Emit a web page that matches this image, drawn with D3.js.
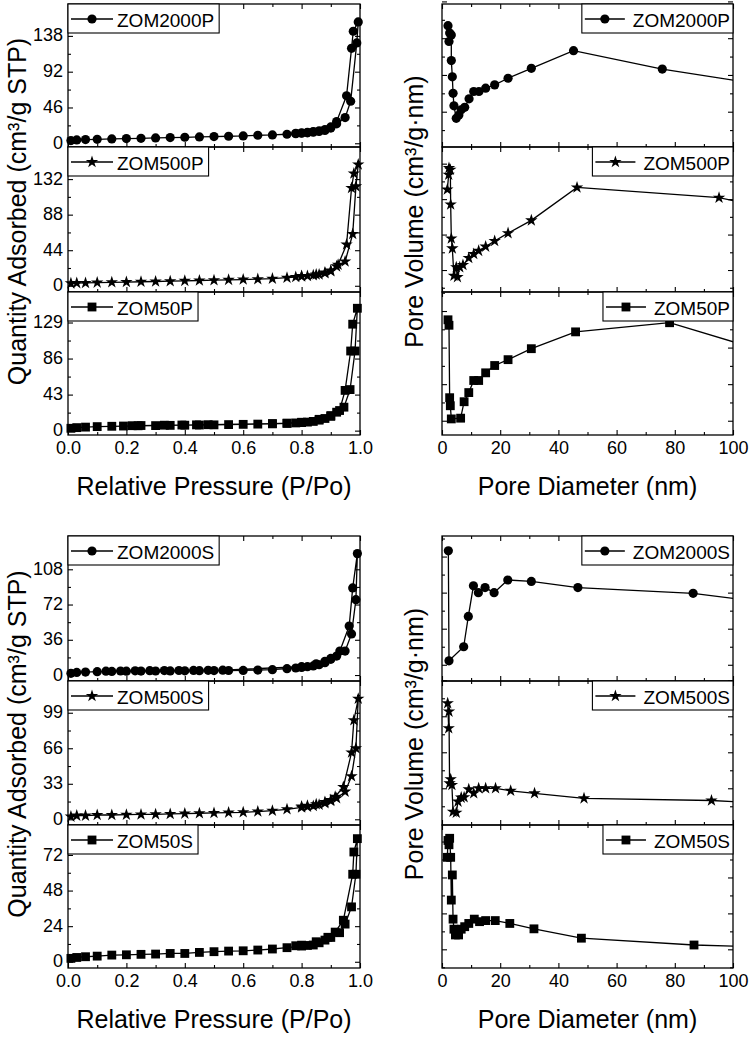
<!DOCTYPE html>
<html><head><meta charset="utf-8">
<script src="https://cdn.jsdelivr.net/npm/d3@7/dist/d3.min.js"></script>
<style>
html,body{margin:0;padding:0;background:#fff;}
</style></head>
<body>
<svg id="chart" width="749" height="1040"></svg>
<script>
// ---------------- DATA ----------------
const seriesLabels  = ["ZOM2000P","ZOM500P","ZOM50P","ZOM2000S","ZOM500S","ZOM50S"];
const seriesSymbols = ["circle","star","square","circle","star","square"];

// N2 isotherms: [P/Po, quantity adsorbed] — adsorption branch then desorption branch
const iso_ZOM2000P = [[0.01,3.4],[0.03,4.3],[0.06,4.7],[0.10,5.1],[0.15,5.6],[0.20,6.0],[0.25,6.4],[0.30,6.9],[0.35,7.3],[0.40,7.7],[0.45,8.1],[0.50,8.6],[0.55,9.0],[0.60,9.4],[0.65,10.3],[0.70,10.7],[0.75,11.6],[0.78,12.2],[0.80,12.9],[0.82,13.4],[0.84,14.2],[0.86,15.1],[0.88,16.4],[0.90,19.5],[0.92,25.0],[0.949,33.0],[0.968,54.0],[0.989,129.0],[0.994,156.0],
  [0.977,144.0],[0.971,122.0],[0.954,61.0],[0.92,28.0],[0.90,21.0],[0.88,17.6],[0.86,16.0],[0.84,15.0],[0.82,14.0],[0.80,13.4],[0.78,12.8]];
const iso_ZOM500P = [[0.01,3.0],[0.03,3.3],[0.06,3.5],[0.10,3.9],[0.15,4.3],[0.20,4.6],[0.25,5.0],[0.30,5.3],[0.35,5.7],[0.40,6.1],[0.45,6.5],[0.50,6.9],[0.55,7.3],[0.60,7.7],[0.65,8.2],[0.70,8.8],[0.75,10.0],[0.78,10.8],[0.80,11.5],[0.82,12.2],[0.84,13.0],[0.86,14.0],[0.88,15.5],[0.90,18.0],[0.92,24.0],[0.949,30.0],[0.975,64.0],[0.986,123.0],[0.994,150.0],
  [0.979,139.0],[0.971,121.0],[0.954,51.0],[0.925,26.0],[0.90,19.0],[0.88,16.5],[0.85,14.0],[0.80,12.0]];
const iso_ZOM50P = [[0.01,2.8],[0.03,3.6],[0.06,4.2],[0.10,4.8],[0.15,5.2],[0.19,5.5],[0.24,5.8],[0.30,6.0],[0.35,6.3],[0.40,6.5],[0.45,6.7],[0.50,6.9],[0.55,7.2],[0.60,7.5],[0.65,7.8],[0.70,8.1],[0.75,8.6],[0.78,9.2],[0.80,9.6],[0.82,10.2],[0.84,11.0],[0.86,12.5],[0.88,14.5],[0.90,17.0],[0.92,22.0],[0.945,28.0],[0.966,49.0],[0.983,95.0],[0.991,146.0],
  [0.975,127.0],[0.968,95.0],[0.949,48.0],[0.93,24.0],[0.90,18.0],[0.86,13.5],[0.80,10.0],[0.75,9.0],[0.70,8.4],[0.48,7.1],[0.44,6.9],[0.39,6.7],[0.33,6.5],[0.25,6.1],[0.22,5.9]];
const iso_ZOM2000S = [[0.01,1.7],[0.03,2.7],[0.06,3.0],[0.10,3.4],[0.15,3.7],[0.20,3.9],[0.25,4.0],[0.30,4.1],[0.35,4.2],[0.40,4.3],[0.45,4.4],[0.50,4.5],[0.55,4.6],[0.60,4.7],[0.65,5.1],[0.70,5.5],[0.75,6.5],[0.78,7.2],[0.80,7.8],[0.82,8.5],[0.84,9.3],[0.86,10.5],[0.88,12.6],[0.90,16.0],[0.92,19.4],[0.949,24.5],[0.971,42.0],[0.986,77.0],[0.991,124.0],
  [0.975,89.0],[0.963,50.0],[0.931,24.5],[0.90,17.0],[0.88,14.0],[0.85,11.5],[0.80,8.5],[0.53,5.0],[0.48,4.8],[0.43,4.7],[0.38,4.6],[0.33,4.5],[0.28,4.4],[0.23,4.3],[0.18,4.1],[0.13,3.9]];
const iso_ZOM500S = [[0.01,2.5],[0.03,3.4],[0.06,3.4],[0.10,4.0],[0.15,4.0],[0.20,4.3],[0.25,4.5],[0.30,4.6],[0.35,5.0],[0.40,5.3],[0.45,5.6],[0.50,5.9],[0.55,6.2],[0.60,6.5],[0.65,7.2],[0.70,8.0],[0.75,9.3],[0.80,11.0],[0.82,11.6],[0.84,12.4],[0.86,13.5],[0.88,15.0],[0.90,17.0],[0.92,19.5],[0.949,25.7],[0.971,40.0],[0.986,66.0],[0.994,112.0],
  [0.979,92.0],[0.971,62.0],[0.943,30.0],[0.915,21.0],[0.90,18.0],[0.88,16.0],[0.85,14.0],[0.82,12.5],[0.80,11.8]];
const iso_ZOM50S = [[0.01,2.3],[0.03,2.9],[0.06,3.4],[0.10,3.8],[0.15,4.5],[0.20,4.7],[0.25,5.0],[0.30,5.2],[0.35,5.6],[0.40,5.6],[0.45,6.3],[0.50,6.8],[0.55,7.2],[0.60,7.4],[0.65,7.9],[0.70,8.6],[0.75,9.5],[0.80,10.6],[0.82,11.0],[0.84,11.3],[0.86,12.8],[0.88,14.6],[0.90,16.4],[0.93,19.6],[0.949,25.4],[0.971,37.0],[0.986,59.0],[0.991,83.0],
  [0.979,74.0],[0.975,59.0],[0.943,28.0],[0.915,20.0],[0.89,16.5],[0.85,13.5],[0.80,11.2],[0.78,10.8]];

// Pore size distributions: [pore diameter nm, pore volume (arbitrary units, unlabelled axis)]
const pore_ZOM2000P = [[2.06,3.34],[2.4,2.91],[2.63,3.14],[3.2,3.09],[3.2,2.39],[3.55,1.95],[3.8,1.50],[4.1,1.16],[4.9,0.82],[5.8,0.91],[6.6,1.05],[7.8,1.12],[9.3,1.35],[10.9,1.55],[12.7,1.55],[15.0,1.64],[18.1,1.73],[22.7,1.91],[30.7,2.18],[45.2,2.66],[75.7,2.16],[130,1.49]];
const pore_ZOM500P = [[1.83,3.27],[2.3,3.69],[2.4,3.88],[2.86,3.83],[2.98,2.85],[3.2,1.89],[3.55,1.61],[4.1,0.84],[4.9,1.08],[5.3,0.80],[6.1,1.08],[7.2,1.14],[9.2,1.34],[10.9,1.45],[12.6,1.54],[15.0,1.66],[18.1,1.82],[22.7,2.04],[30.7,2.40],[46.4,3.33],[95.2,3.04],[110,2.78]];
const pore_ZOM50P = [[2.06,3.76],[2.4,3.61],[2.63,1.63],[2.86,1.41],[3.2,1.05],[6.4,1.07],[7.6,1.52],[9.2,1.77],[10.9,2.10],[12.6,2.10],[15.0,2.31],[18.1,2.51],[22.7,2.67],[30.7,2.97],[45.9,3.43],[78.2,3.68],[125,2.56]];
const pore_ZOM2000S = [[2.18,4.16],[2.4,1.11],[7.45,1.50],[9.05,2.34],[10.8,3.19],[12.5,3.00],[14.8,3.14],[17.9,3.00],[22.6,3.35],[30.7,3.31],[46.7,3.14],[86.3,2.98],[130,2.53]];
const pore_ZOM500S = [[1.95,3.36],[2.3,2.67],[2.4,3.13],[2.6,1.14],[2.98,1.25],[3.4,1.09],[3.8,0.35],[4.9,0.32],[5.5,0.63],[6.6,0.74],[7.6,0.75],[9.2,0.97],[10.9,0.86],[12.6,1.00],[15.0,1.00],[18.4,1.00],[23.6,0.93],[31.8,0.86],[48.8,0.72],[92.6,0.66],[130,0.51]];
const pore_ZOM50S = [[1.83,3.56],[2.06,4.03],[2.4,3.91],[2.63,4.09],[2.98,3.56],[3.2,2.37],[3.55,3.07],[3.8,1.84],[4.1,1.56],[4.6,1.40],[5.5,1.54],[5.7,1.40],[6.6,1.56],[7.8,1.63],[9.2,1.72],[11.1,1.84],[12.9,1.77],[15.0,1.80],[18.3,1.80],[23.3,1.72],[31.6,1.57],[47.9,1.31],[86.6,1.12],[130,1.02]];

// Axis ticks / ranges
const isoXTicks  = [0,0.2,0.4,0.6,0.8,1.0];
const isoXMinor  = [0.1,0.3,0.5,0.7,0.9];
const poreXTicks = [0,20,40,60,80,100];
const poreXMinor = [10,30,50,70,90];
const isoYTicks   = [[0,46,92,138],[0,44,88,132],[0,43,86,129],[0,36,72,108],[0,33,66,99],[0,24,48,72]];
const isoYDomains = [[-4.8,179],[-7.7,171.7],[-5.2,165.4],[-6.1,142],[-5.3,128.5],[-4.2,92.2]];
const poreYTicks   = [1,2,3,4];
const poreYDomains = [[0.04,3.93],[0.38,4.47],[0.61,4.52],[0.55,4.57],[-0.02,3.98],[0.48,4.46]];
const isoXTitle  = "Relative Pressure (P/Po)";
const poreXTitle = "Pore Diameter (nm)";
const isoYTitle  = "Quantity Adsorbed (cm³/g STP)";
const poreYTitle = "Pore Volume (cm³/g·nm)";

const isoData  = [iso_ZOM2000P, iso_ZOM500P, iso_ZOM50P, iso_ZOM2000S, iso_ZOM500S, iso_ZOM50S];
const poreData = [pore_ZOM2000P, pore_ZOM500P, pore_ZOM50P, pore_ZOM2000S, pore_ZOM500S, pore_ZOM50S];

// ---------------- LAYOUT ----------------
const FONT = "'Liberation Sans', Arial, Helvetica, sans-serif";
const colX = {iso:[68,360], pore:[442,733]};
const rowEdges = [[4,147,292,435],[536,681,825,968]];
const svg = d3.select('#chart');
let clipId = 0;

function addMarker(sel, sym, cx, cy) {
  if (sym === 'circle') {
    sel.append('circle').attr('cx', cx).attr('cy', cy).attr('r', 4.6).attr('fill', '#000');
  } else {
    const t = sym === 'star' ? d3.symbolStar : d3.symbolSquare;
    const s = sym === 'star' ? 48 : 78;
    sel.append('path').attr('d', d3.symbol().type(t).size(s)()).attr('transform', `translate(${cx},${cy})`).attr('fill', '#000');
  }
}

function styleAxis(g) {
  g.attr('font-family', FONT).attr('font-size', 18);
  g.select('.domain').remove();
  g.selectAll('line').attr('stroke', '#000').attr('stroke-width', 1.1);
  g.selectAll('text').attr('fill', '#000');
}

function drawPanel(p) {
  const [x0, x1] = p.xr, y0 = p.y0, y1 = p.y1;
  const x = d3.scaleLinear().domain(p.xDom).range([x0, x1]);
  const y = d3.scaleLinear().domain(p.yDom).range([y1, y0]);
  const g = svg.append('g');
  const id = 'clip' + (clipId++);
  g.append('clipPath').attr('id', id).append('rect').attr('x', x0).attr('y', y0).attr('width', x1 - x0).attr('height', y1 - y0);

  // ticks (inward, all four sides)
  const noLab = () => '';
  const L = 5, m = 3;
  g.append('g').attr('transform', `translate(0,${y1})`)
    .call(d3.axisBottom(x).tickValues(p.xTicks).tickSize(-L).tickPadding(6).tickFormat(p.showX ? p.xFmt : noLab)).call(styleAxis);
  g.append('g').attr('transform', `translate(0,${y1})`)
    .call(d3.axisBottom(x).tickValues(p.xMinor).tickSize(-m).tickFormat(noLab)).call(styleAxis);
  g.append('g').attr('transform', `translate(0,${y0})`)
    .call(d3.axisTop(x).tickValues(p.xTicks).tickSize(-L).tickFormat(noLab)).call(styleAxis);
  g.append('g').attr('transform', `translate(0,${y0})`)
    .call(d3.axisTop(x).tickValues(p.xMinor).tickSize(-m).tickFormat(noLab)).call(styleAxis);
  const yMinor = p.yTicks.slice(0, -1).map((v, i) => (v + p.yTicks[i + 1]) / 2);
  const step = p.yTicks[1] - p.yTicks[0];
  yMinor.unshift(p.yTicks[0] - step / 2);
  yMinor.push(p.yTicks[p.yTicks.length - 1] + step / 2);
  const yMin = yMinor.filter(v => v > p.yDom[0] && v < p.yDom[1]);
  const yl = g.append('g').attr('transform', `translate(${x0},0)`)
    .call(d3.axisLeft(y).tickValues(p.yTicks).tickSize(-L).tickPadding(5).tickFormat(p.showY ? d3.format('d') : noLab)).call(styleAxis);
  yl.selectAll('text').attr('dy', '0.28em');
  g.append('g').attr('transform', `translate(${x0},0)`)
    .call(d3.axisLeft(y).tickValues(yMin).tickSize(-m).tickFormat(noLab)).call(styleAxis);
  g.append('g').attr('transform', `translate(${x1},0)`)
    .call(d3.axisRight(y).tickValues(p.yTicks).tickSize(-L).tickFormat(noLab)).call(styleAxis);
  g.append('g').attr('transform', `translate(${x1},0)`)
    .call(d3.axisRight(y).tickValues(yMin).tickSize(-m).tickFormat(noLab)).call(styleAxis);

  // data
  const dg = g.append('g');
  if (p.clip) dg.attr('clip-path', `url(#${id})`);
  dg.append('path').datum(p.data)
    .attr('d', d3.line().x(d => x(d[0])).y(d => y(d[1])))
    .attr('fill', 'none').attr('stroke', '#000').attr('stroke-width', 1.3);
  p.data.forEach(d => addMarker(dg, p.sym, x(d[0]), y(d[1])));

  // frame
  g.append('rect').attr('x', x0).attr('y', y0).attr('width', x1 - x0).attr('height', y1 - y0)
    .attr('fill', 'none').attr('stroke', '#000').attr('stroke-width', 1.3);

  // legend
  const lg = g.append('g');
  const rect = lg.append('rect');
  const txt = lg.append('text').text(p.label).attr('font-family', FONT).attr('font-size', 19)
    .attr('fill', '#000').attr('y', y0 + 23);
  const tw = txt.node().getComputedTextLength();
  let bx, bw, lx0, lx1;
  if (p.legendSide === 'left') {
    bx = x0; lx0 = x0 + 3; lx1 = x0 + 45;
    txt.attr('x', x0 + 49);
    bw = 49 + tw + 5;
  } else {
    const tx = x1 - 3 - tw;
    txt.attr('x', tx);
    lx1 = tx - 8; lx0 = lx1 - 40;
    bx = lx0 - 3; bw = x1 - bx;
  }
  rect.attr('x', bx).attr('y', y0).attr('width', bw).attr('height', 29)
    .attr('fill', '#fff').attr('stroke', '#000').attr('stroke-width', 1.1);
  const ly = y0 + 15;
  lg.append('line').attr('x1', lx0).attr('x2', lx1).attr('y1', ly).attr('y2', ly)
    .attr('stroke', '#000').attr('stroke-width', 1.3);
  addMarker(lg, p.sym, (lx0 + lx1) / 2, ly);
}

seriesLabels.forEach((lab, i) => {
  const grp = i < 3 ? 0 : 1, row = i % 3;
  const edges = rowEdges[grp];
  drawPanel({
    label: lab, sym: seriesSymbols[i], data: isoData[i],
    xr: colX.iso, y0: edges[row], y1: edges[row + 1],
    xDom: [0, 1], xTicks: isoXTicks, xMinor: isoXMinor, xFmt: d3.format('.1f'),
    yDom: isoYDomains[i], yTicks: isoYTicks[i],
    showX: row === 2, showY: true, legendSide: 'left', clip: false
  });
  drawPanel({
    label: lab, sym: seriesSymbols[i], data: poreData[i],
    xr: colX.pore, y0: edges[row], y1: edges[row + 1],
    xDom: [0, 100], xTicks: poreXTicks, xMinor: poreXMinor, xFmt: d3.format('d'),
    yDom: poreYDomains[i], yTicks: poreYTicks,
    showX: row === 2, showY: false, legendSide: 'right', clip: true
  });
});

// titles
rowEdges.forEach((edges, gi) => {
  const cy = (edges[0] + edges[3]) / 2 - 8;
  const base = edges[3] + 60;
  svg.append('text').text(isoXTitle).attr('x', (colX.iso[0] + colX.iso[1]) / 2).attr('y', base)
    .attr('text-anchor', 'middle').attr('font-family', FONT).attr('font-size', 25).attr('fill', '#000');
  svg.append('text').text(poreXTitle).attr('x', (colX.pore[0] + colX.pore[1]) / 2).attr('y', base)
    .attr('text-anchor', 'middle').attr('font-family', FONT).attr('font-size', 25).attr('fill', '#000');
  svg.append('text').text(isoYTitle).attr('transform', `translate(26,${cy}) rotate(-90)`)
    .attr('text-anchor', 'middle').attr('font-family', FONT).attr('font-size', 25).attr('fill', '#000');
  svg.append('text').text(poreYTitle).attr('transform', `translate(423,${cy}) rotate(-90)`)
    .attr('text-anchor', 'middle').attr('font-family', FONT).attr('font-size', 25).attr('fill', '#000');
});
</script>
</body></html>
